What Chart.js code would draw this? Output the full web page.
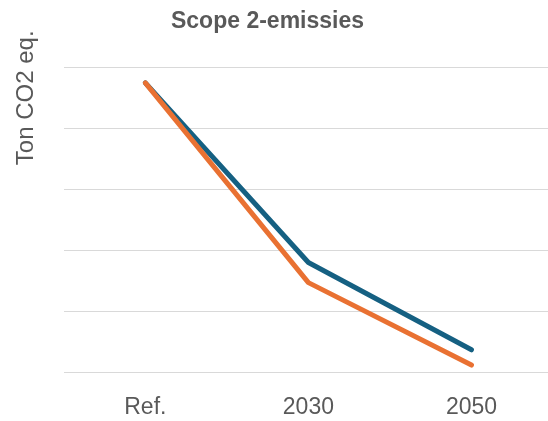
<!DOCTYPE html>
<html lang="nl">
<head>
<meta charset="utf-8">
<title>Scope 2-emissies</title>
<script src="https://cdn.jsdelivr.net/npm/chart.js@4/dist/chart.umd.min.js"></script>
<style>
  html, body { margin: 0; padding: 0; background: #ffffff; }
  #wrap { width: 548px; height: 421px; overflow: hidden; position: relative; }
  canvas { display: block; }
</style>
</head>
<body>
<div id="wrap"><canvas id="chart" width="554" height="421"></canvas></div>
<script>
// Scope 2 emissions per scenario (ton CO2 eq.)
const categories = ['Ref.', '2030', '2050'];
const seriesBlue = [4.74, 1.80, 0.37];
const seriesOrange = [4.74, 1.47, 0.12];
const yGridValues = [0, 1, 2, 3, 4, 5];

const chartTitle = 'Scope 2-emissies';
const yAxisTitle = 'Ton CO2 eq.';

const TEXT = '#595959';
const FONT = "'Liberation Sans', Arial, Helvetica, sans-serif";

// Shift the centred chart title slightly to the left
const titleShift = {
  id: 'titleShift',
  afterLayout(chart) {
    if (chart.titleBlock) chart.titleBlock.right -= 18;
  }
};

new Chart(document.getElementById('chart'), {
  type: 'line',
  data: {
    labels: categories,
    datasets: [
      {
        label: 'Reeks 2',
        data: seriesOrange,
        borderColor: '#E97132',
        backgroundColor: '#E97132',
        borderWidth: 5,
        borderCapStyle: 'round',
        borderJoinStyle: 'round',
        pointRadius: 0,
        tension: 0
      },
      {
        label: 'Reeks 1',
        data: seriesBlue,
        borderColor: '#156082',
        backgroundColor: '#156082',
        borderWidth: 5,
        borderCapStyle: 'round',
        borderJoinStyle: 'round',
        pointRadius: 0,
        tension: 0
      }
    ]
  },
  options: {
    responsive: false,
    animation: false,
    devicePixelRatio: 1,
    layout: { padding: { left: 0, right: 1, top: 0, bottom: -21 } },
    plugins: {
      legend: { display: false },
      tooltip: { enabled: false },
      title: {
        display: true,
        text: chartTitle,
        color: TEXT,
        font: { family: FONT, size: 23, weight: 'bold', lineHeight: 0.8 },
        padding: { top: 12, bottom: 0 }
      }
    },
    scales: {
      x: {
        offset: true,
        grid: { display: false, drawTicks: false, offset: true },
        border: { display: false },
        ticks: {
          color: TEXT,
          font: { family: FONT, size: 23 },
          padding: 21,
          maxRotation: 0,
          minRotation: 0
        }
      },
      y: {
        min: 0,
        max: 5.6,
        afterBuildTicks(scale) {
          scale.ticks = yGridValues.map(v => ({ value: v }));
        },
        grid: { color: '#d9d9d9', lineWidth: 1, drawTicks: false },
        border: { display: false },
        ticks: { display: false },
        title: {
          display: true,
          text: yAxisTitle,
          align: 'end',
          color: TEXT,
          font: { family: FONT, size: 24 },
          padding: { top: 12, bottom: 23 }
        }
      }
    }
  },
  plugins: [titleShift]
});
</script>
</body>
</html>
